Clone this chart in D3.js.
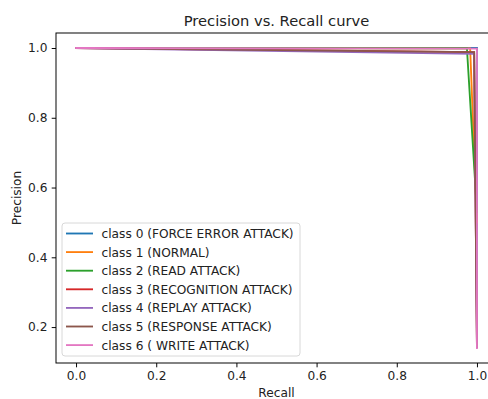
<!DOCTYPE html>
<html>
<head>
<meta charset="utf-8">
<script src="https://cdn.jsdelivr.net/npm/d3@7"></script>
<style>
  body { margin: 0; background: #fff; }
  svg { display: block; font-family: "DejaVu Sans", sans-serif; }
</style>
</head>
<body>
<div id="chart"></div>
<script>
// class names and colours (matplotlib tab10)
const classNames = [
  'class 0 (FORCE ERROR ATTACK)',
  'class 1 (NORMAL)',
  'class 2 (READ ATTACK)',
  'class 3 (RECOGNITION ATTACK)',
  'class 4 (REPLAY ATTACK)',
  'class 5 (RESPONSE ATTACK)',
  'class 6 ( WRITE ATTACK)'
];
const classColors = ['#1f77b4', '#ff7f0e', '#2ca02c', '#d62728', '#9467bd', '#8c564b', '#e377c2'];

// recall / precision points per class
const recallValues = [
  [0, 1.0, 1.0],
  [0, 0.983, 1.0],
  [0, 0.975, 1.0],
  [0, 0.993, 1.0],
  [0, 0.993, 1.0],
  [0, 0.993, 1.0],
  [0, 1.0, 1.0]
];
const precisionValues = [
  [1.0, 1.0, 0.143],
  [1.0, 0.999, 0.5],
  [1.0, 0.999, 0.53],
  [1.0, 0.988, 0.143],
  [1.0, 0.983, 0.143],
  [1.0, 0.988, 0.143],
  [1.0, 0.998, 0.14]
];
const xTicks = [0.0, 0.2, 0.4, 0.6, 0.8, 1.0];
const yTicks = [0.2, 0.4, 0.6, 0.8, 1.0];

const W = 488, H = 399;
const margin = { top: 33, left: 56 };
const plotW = 441, plotH = 330;
const fs = 12.2;

const svg = d3.select('#chart').append('svg')
  .attr('width', W)
  .attr('height', H);

const x = d3.scaleLinear().domain([-0.05, 1.05]).range([margin.left, margin.left + plotW]);
const yMin = 0.14, yMax = 1.0, yPad = (yMax - yMin) * 0.05;
const y = d3.scaleLinear().domain([yMin - yPad, yMax + yPad]).range([margin.top + plotH, margin.top]);

svg.append('clipPath').attr('id', 'clip')
  .append('rect')
  .attr('x', margin.left).attr('y', margin.top)
  .attr('width', plotW).attr('height', plotH);

const line = d3.line()
  .x(d => x(d[0]))
  .y(d => y(d[1]));

const plot = svg.append('g').attr('clip-path', 'url(#clip)');
classNames.forEach((name, i) => {
  const pts = recallValues[i].map((r, j) => [r, precisionValues[i][j]]);
  plot.append('path')
    .datum(pts)
    .attr('fill', 'none')
    .attr('stroke', classColors[i])
    .attr('stroke-width', 1.85)
    .attr('stroke-linecap', 'square')
    .attr('d', line);
});

// axes
const xAxis = svg.append('g')
  .attr('transform', `translate(0,${margin.top + plotH})`)
  .call(d3.axisBottom(x).tickValues(xTicks).tickFormat(d3.format('.1f')).tickSize(4.3).tickPadding(4.3));
const yAxis = svg.append('g')
  .attr('transform', `translate(${margin.left},0)`)
  .call(d3.axisLeft(y).tickValues(yTicks).tickFormat(d3.format('.1f')).tickSize(4.3).tickPadding(4.3));

[xAxis, yAxis].forEach(g => {
  g.select('.domain').remove();
  g.selectAll('.tick line').attr('stroke', '#000').attr('stroke-width', 0.98);
  g.selectAll('.tick text')
    .attr('fill', '#222')
    .style('font-size', fs + 'px')
    .style('font-family', '"DejaVu Sans", sans-serif');
});

// spines
svg.append('rect')
  .attr('x', margin.left).attr('y', margin.top)
  .attr('width', plotW).attr('height', plotH)
  .attr('fill', 'none')
  .attr('stroke', '#000')
  .attr('stroke-width', 0.98);

// title and labels
svg.append('text')
  .attr('x', margin.left + plotW / 2)
  .attr('y', 26)
  .attr('text-anchor', 'middle')
  .attr('fill', '#222')
  .style('font-size', '14.7px')
  .text('Precision vs. Recall curve');

svg.append('text')
  .attr('x', margin.left + plotW / 2)
  .attr('y', 396.5)
  .attr('text-anchor', 'middle')
  .attr('fill', '#222')
  .style('font-size', fs + 'px')
  .text('Recall');

svg.append('text')
  .attr('transform', `translate(20.5,${margin.top + plotH / 2}) rotate(-90)`)
  .attr('text-anchor', 'middle')
  .attr('fill', '#222')
  .style('font-size', fs + 'px')
  .text('Precision');

// legend
const legend = svg.append('g');
legend.append('rect')
  .attr('x', 62).attr('y', 223)
  .attr('width', 238).attr('height', 133)
  .attr('rx', 3)
  .attr('fill', '#fff')
  .attr('fill-opacity', 0.8)
  .attr('stroke', '#d8d8d8')
  .attr('stroke-width', 1);

classNames.forEach((name, i) => {
  const cy = 233.5 + i * 18.6;
  legend.append('line')
    .attr('x1', 66).attr('x2', 93)
    .attr('y1', cy).attr('y2', cy)
    .attr('stroke', classColors[i])
    .attr('stroke-width', 1.85);
  legend.append('text')
    .attr('x', 101.5)
    .attr('y', cy + 4.4)
    .attr('fill', '#222')
    .style('font-size', fs + 'px')
    .text(name);
});
</script>
</body>
</html>
